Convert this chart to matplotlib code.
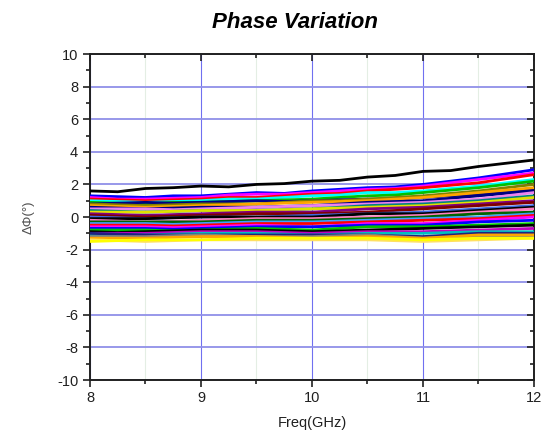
import matplotlib.pyplot as plt
from matplotlib.ticker import MultipleLocator

plt.rcParams['font.family'] = ['Liberation Sans', 'DejaVu Sans']
plt.rcParams['axes.unicode_minus'] = False

freq = [8, 8.25, 8.5, 8.75, 9, 9.25, 9.5, 9.75, 10,
        10.25, 10.5, 10.75, 11, 11.25, 11.5, 11.75, 12]

# phase variation curves (deg), one list per channel
curves = [
    [1.6, 1.55, 1.75, 1.8, 1.9, 1.85, 2.0, 2.05, 2.2, 2.25, 2.45, 2.55, 2.8, 2.85, 3.1, 3.3, 3.5],
    [1.3, 1.25, 1.2, 1.3, 1.3, 1.4, 1.5, 1.45, 1.6, 1.7, 1.8, 1.85, 2.0, 2.2, 2.4, 2.65, 2.9],
    [1.2, 1.1, 1.1, 1.15, 1.2, 1.35, 1.4, 1.4, 1.5, 1.6, 1.7, 1.75, 1.9, 2.1, 2.3, 2.5, 2.7],
    [1.1, 1.05, 1.0, 1.05, 1.1, 1.2, 1.2, 1.3, 1.4, 1.45, 1.6, 1.7, 1.8, 1.95, 2.1, 2.35, 2.6],
    [1.0, 0.95, 0.9, 0.95, 1.0, 1.1, 1.1, 1.2, 1.3, 1.35, 1.5, 1.5, 1.6, 1.75, 1.9, 2.1, 2.3],
    [0.9, 0.85, 0.8, 0.9, 0.9, 0.95, 1.0, 1.05, 1.1, 1.2, 1.3, 1.35, 1.5, 1.65, 1.8, 2.0, 2.2],
    [0.8, 0.85, 0.9, 0.85, 0.9, 0.95, 1.0, 0.95, 1.0, 1.05, 1.1, 1.1, 1.2, 1.3, 1.4, 1.55, 1.7],
    [0.8, 0.75, 0.7, 0.75, 0.8, 0.8, 0.8, 0.9, 1.0, 1.0, 1.1, 1.2, 1.3, 1.45, 1.6, 1.8, 2.0],
    [0.7, 0.65, 0.6, 0.65, 0.7, 0.75, 0.8, 0.85, 0.9, 0.95, 1.0, 1.1, 1.2, 1.35, 1.5, 1.65, 1.8],
    [0.6, 0.55, 0.5, 0.55, 0.6, 0.6, 0.6, 0.65, 0.7, 0.8, 0.9, 0.95, 1.0, 1.15, 1.3, 1.45, 1.6],
    [0.5, 0.5, 0.5, 0.45, 0.5, 0.55, 0.6, 0.65, 0.7, 0.75, 0.8, 0.85, 0.9, 1.0, 1.1, 1.3, 1.5],
    [0.4, 0.35, 0.3, 0.35, 0.4, 0.4, 0.4, 0.45, 0.5, 0.6, 0.7, 0.75, 0.8, 0.9, 1.0, 1.15, 1.3],
    [0.3, 0.3, 0.3, 0.35, 0.4, 0.4, 0.4, 0.45, 0.5, 0.55, 0.6, 0.65, 0.7, 0.8, 0.9, 1.05, 1.2],
    [0.2, 0.15, 0.1, 0.15, 0.2, 0.25, 0.3, 0.3, 0.3, 0.4, 0.5, 0.55, 0.6, 0.7, 0.8, 0.9, 1.0],
    [0.1, 0.05, 0.0, 0.05, 0.1, 0.15, 0.2, 0.2, 0.2, 0.25, 0.3, 0.4, 0.5, 0.6, 0.7, 0.8, 0.9],
    [0.0, -0.05, -0.1, -0.05, 0.0, 0.0, 0.0, 0.05, 0.1, 0.15, 0.2, 0.25, 0.3, 0.4, 0.5, 0.6, 0.7],
    [-0.1, -0.1, -0.1, -0.05, 0.0, 0.0, 0.0, 0.0, 0.0, 0.1, 0.2, 0.2, 0.2, 0.3, 0.4, 0.5, 0.6],
    [-0.2, -0.25, -0.3, -0.25, -0.2, -0.15, -0.1, -0.1, -0.1, -0.05, 0.0, 0.05, 0.1, 0.2, 0.3, 0.4, 0.5],
    [-0.3, -0.3, -0.3, -0.3, -0.3, -0.25, -0.2, -0.2, -0.2, -0.15, -0.1, -0.05, 0.0, 0.1, 0.2, 0.25, 0.3],
    [-0.4, -0.4, -0.4, -0.45, -0.4, -0.35, -0.3, -0.3, -0.3, -0.25, -0.2, -0.15, -0.1, -0.05, 0.0, 0.1, 0.2],
    [-0.5, -0.5, -0.5, -0.55, -0.5, -0.45, -0.4, -0.4, -0.4, -0.35, -0.3, -0.25, -0.2, -0.15, -0.1, 0.0, 0.1],
    [-0.6, -0.6, -0.6, -0.65, -0.6, -0.55, -0.5, -0.55, -0.6, -0.5, -0.4, -0.4, -0.4, -0.3, -0.2, -0.1, 0.0],
    [-0.7, -0.7, -0.7, -0.75, -0.7, -0.65, -0.6, -0.6, -0.6, -0.55, -0.5, -0.5, -0.5, -0.4, -0.3, -0.25, -0.2],
    [-0.8, -0.8, -0.8, -0.85, -0.8, -0.75, -0.7, -0.75, -0.8, -0.7, -0.6, -0.6, -0.6, -0.55, -0.5, -0.45, -0.4],
    [-0.9, -0.95, -0.9, -0.85, -0.8, -0.8, -0.8, -0.85, -0.9, -0.85, -0.8, -0.75, -0.7, -0.65, -0.6, -0.55, -0.5],
    [-1.0, -1.0, -1.0, -0.95, -0.9, -0.9, -0.9, -0.95, -1.0, -0.95, -0.9, -0.9, -0.9, -0.85, -0.8, -0.75, -0.7],
    [-1.1, -1.1, -1.1, -1.05, -1.0, -1.0, -1.0, -1.05, -1.1, -1.05, -1.0, -1.0, -1.0, -0.95, -0.9, -0.9, -0.9],
    [-1.0, -1.05, -1.1, -1.1, -1.1, -1.1, -1.1, -1.1, -1.1, -1.1, -1.1, -1.15, -1.2, -1.1, -1.0, -1.0, -1.0],
    [-1.2, -1.2, -1.2, -1.15, -1.1, -1.15, -1.2, -1.2, -1.2, -1.15, -1.1, -1.2, -1.3, -1.25, -1.2, -1.2, -1.2],
    [-1.3, -1.3, -1.3, -1.25, -1.2, -1.2, -1.2, -1.25, -1.3, -1.25, -1.2, -1.25, -1.3, -1.2, -1.1, -1.1, -1.1],
    [-1.4, -1.45, -1.5, -1.45, -1.4, -1.4, -1.4, -1.4, -1.4, -1.4, -1.4, -1.45, -1.5, -1.45, -1.4, -1.35, -1.3],
    [-1.5, -1.45, -1.4, -1.4, -1.4, -1.35, -1.3, -1.3, -1.3, -1.3, -1.3, -1.35, -1.4, -1.35, -1.3, -1.3, -1.3],
]

colors = [
    'black', 'blue', 'magenta', 'red', 'cyan', '#00c000', 'navy', '#808000',
    'orange', '#000080', 'violet', '#008080', '#e0e000', 'purple', '#800000',
    '#4169e1', 'black', '#ff80c0', '#006400', '#40a0ff', 'red', 'magenta',
    'blue', '#00c000', 'black', '#c000c0', '#00c0c0', '#202080', 'gray',
    'orange', '#ffe060', 'yellow',
]

fig = plt.figure(figsize=(5.5, 4.41), dpi=100)
ax = fig.add_axes((0.1636, 0.1383, 0.8073, 0.7392))

for y, c in zip(curves, colors):
    ax.plot(freq, y, color=c, lw=2.0, zorder=3)

ax.set_xlim(8, 12)
ax.set_ylim(-10, 10)
ax.xaxis.set_major_locator(MultipleLocator(1))
ax.xaxis.set_minor_locator(MultipleLocator(0.5))
ax.yaxis.set_major_locator(MultipleLocator(2))
ax.yaxis.set_minor_locator(MultipleLocator(1))

ax.grid(axis='y', which='major', color='#9090e8', lw=1.3, zorder=1)
ax.grid(axis='x', which='major', color='#7070f0', lw=0.8, zorder=1)
ax.grid(axis='x', which='minor', color='#e4eee4', lw=0.8, zorder=0)

for s in ax.spines.values():
    s.set_linewidth(1.4)
    s.set_color('#202020')

ax.tick_params(which='both', width=1.2, colors='#202020', labelsize=10.5,
               labelcolor='#202020')
ax.tick_params(which='major', length=5)
ax.tick_params(which='minor', length=3)
ax.tick_params(axis='x', pad=3)

# inward ticks on top and right
ax.tick_params(top=True, right=True, which='both')
for t in ax.xaxis.get_major_ticks() + ax.xaxis.get_minor_ticks():
    t.tick2line.set_marker(3)
for t in ax.yaxis.get_major_ticks() + ax.yaxis.get_minor_ticks():
    t.tick2line.set_marker(0)

ax.set_xlabel('Freq(GHz)', fontsize=10.5, color='#202020', labelpad=8)
ax.set_ylabel('ΔΦ(°)', fontsize=9.5, color='#505050', labelpad=16)
fig.text(0.536, 0.95, 'Phase Variation', fontsize=16, fontweight='bold',
         fontstyle='italic', ha='center', va='center')

fig.savefig('out.png', dpi=100)
